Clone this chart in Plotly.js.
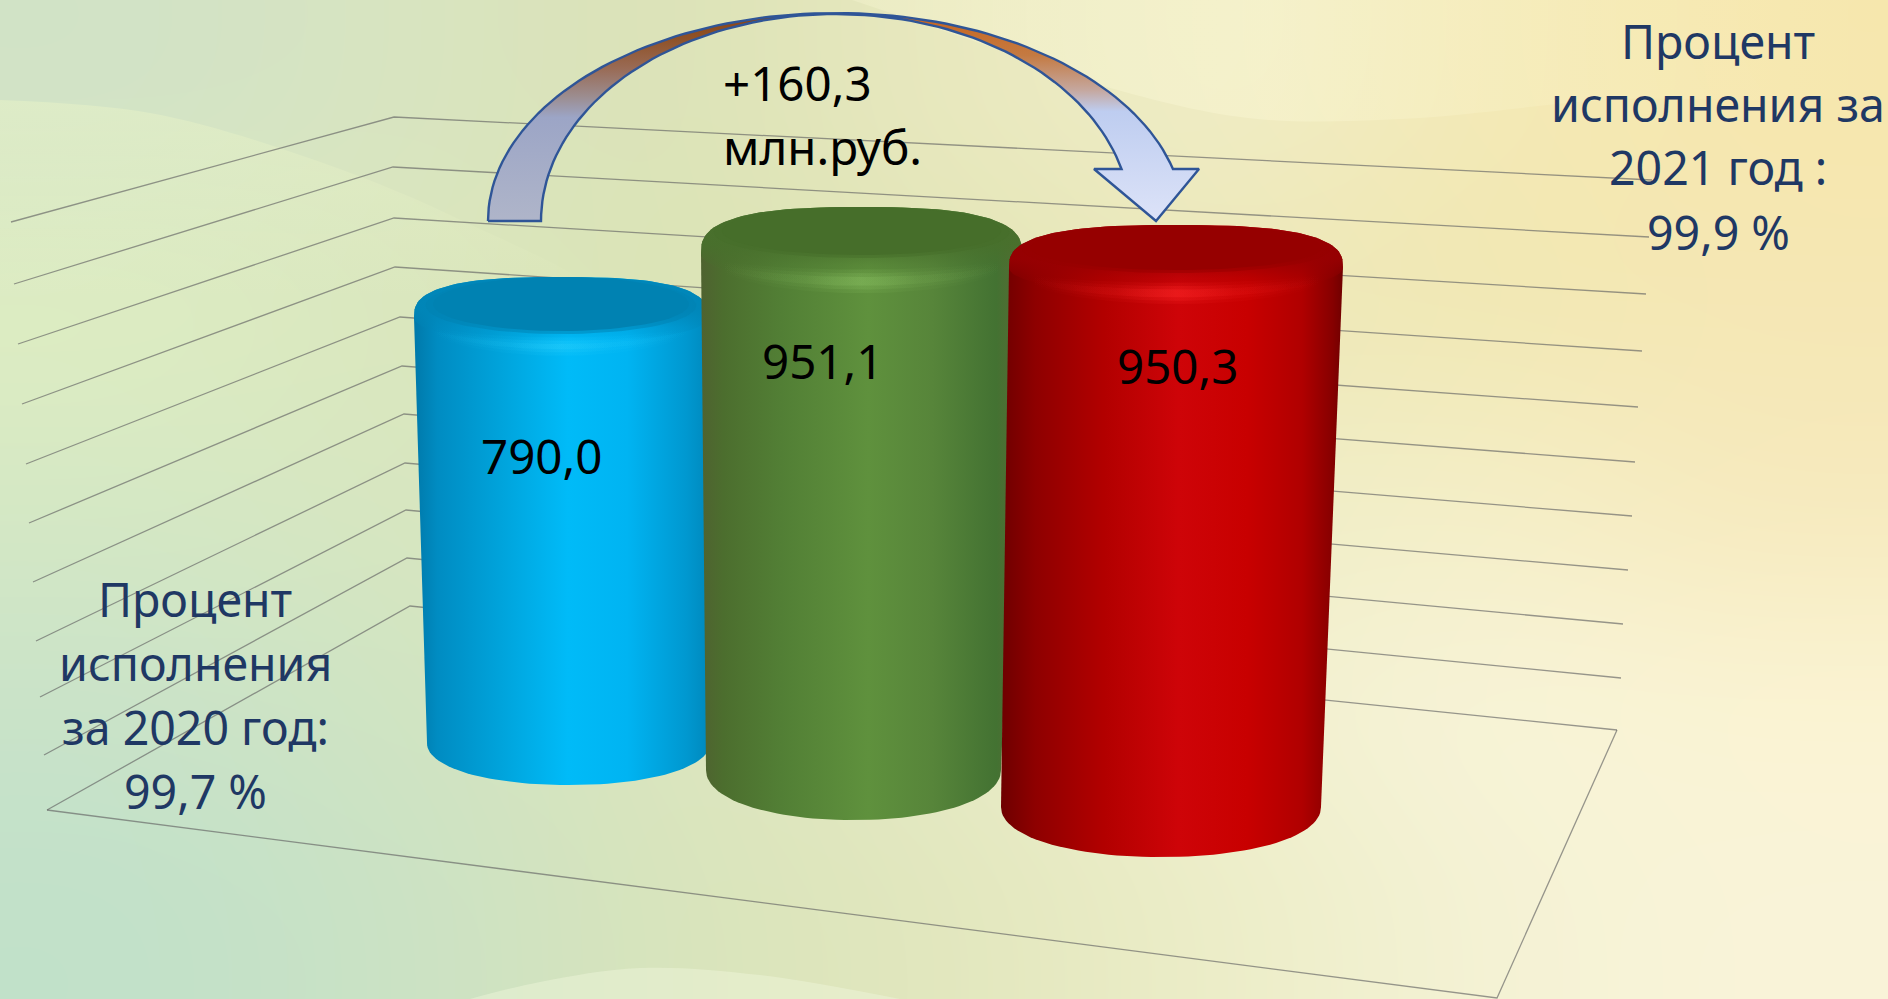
<!DOCTYPE html>
<html><head><meta charset="utf-8">
<script src="https://cdn.plot.ly/plotly-3.0.1.min.js"></script>
<style>html,body{margin:0;padding:0;width:1888px;height:999px;overflow:hidden}#c{width:1888px;height:999px}</style>
</head><body><div id="c"></div>
<script>
// ---- data ----
const categories = ["2020", "2021 план", "2021 факт"];
const values = [790.0, 951.1, 950.3];
const valueLabels = ["790,0", "951,1", "950,3"];
const gridTicks = [0,100,200,300,400,500,600,700,800,900,1000];
const deltaLines = ["+160,3", "млн.руб."];
const noteLeft = ["Процент", "исполнения", "за 2020 год:", "99,7 %"];
const noteRight = ["Процент", "исполнения за", "2021 год :", "99,9 %"];

// ---- projected geometry of the 3-D scene (page pixels) ----
const wallLeftX  = [47,44,40,36,33,29,26,22,18,14,11];
const wallLeftY  = [810,755,697,641,582,523,464,404,344,284,222];
const cornerX    = [410,407,406,405,404,402,400,395,394,393,394];
const cornerY    = [606,558,510,463,414,366,317,267,218,167,117];
const wallRightX = [1617,1621,1623,1628,1632,1635,1638,1642,1646,1649,1652];
const wallRightY = [730,678,624,570,516,462,407,351,294,237,180];
const floorFront = [1497,998];
const cyl = [
 {tL:414,tR:708,tB:40,bL:427,bR:710,bY:743,bB:42,k:0.5392,fl:14,
  body:[[0,'#0079AA'],[0.08,'#008CC2'],[0.3,'#00A4DC'],[0.52,'#00BBF8'],[0.72,'#00B4F2'],[0.92,'#0098D0'],[1,'#0088BC']],
  face:'0,130,178',rim:'0,134,184',hi:'40,205,250'},
 {tL:701,tR:1022,tB:46,bL:706,bR:1001,bY:770,bB:50,k:0.5436,fl:2,
  body:[[0,'#4F6230'],[0.07,'#4C6E2E'],[0.25,'#527F35'],[0.52,'#5F913D'],[0.72,'#57853A'],[0.92,'#437232'],[1,'#5A6B34']],
  face:'70,110,42',rim:'72,112,44',hi:'136,190,96'},
 {tL:1009,tR:1343,tB:42,bL:1001,bR:1321,bY:807,bB:50,k:0.5682,fl:3,
  body:[[0,'#6E0000'],[0.1,'#8E0000'],[0.3,'#B20000'],[0.52,'#CE0408'],[0.72,'#C80000'],[0.88,'#B00000'],[0.97,'#860000'],[1,'#700000']],
  face:'150,0,0',rim:'152,0,2',hi:'255,40,40'}
];
const arrowC = {x:836,y:221,outerA:348,outerB:208,innerA:295,innerB:207,
  footY:221, neckY:169, wingL:1094, wingR:1199, tipX:1156, tipY:221};

// ---- background ----
const bgGrid = [
 ['#D2E3C6','#D8E4C0','#DCE3B8','#E8E8BE','#EFECC4','#F3E9B6','#F6E7AE'],
 ['#DDECC2','#DAE7BE','#DBE4B6','#E3E6B8','#ECE8BA','#F1E8B4','#F5E7B4'],
 ['#D5E8C4','#D7E6C0','#DCE6BC','#E6E9C0','#EEEDC6','#F4EEC6','#F6EABE'],
 ['#CAE3C8','#D0E4C2','#DBE5BE','#E6EAC4','#F0F0CE','#F7F3D6','#FAF3D2'],
 ['#C2E1C9','#CBE2C4','#D8E4BC','#E2E7BE','#ECEDC8','#F4F2D4','#F9F3D8']
];
function bgImage(){
  const s=document.createElement('canvas'); s.width=bgGrid[0].length; s.height=bgGrid.length;
  const g=s.getContext('2d');
  bgGrid.forEach((r,j)=>r.forEach((c,i)=>{g.fillStyle=c;g.fillRect(i,j,1,1);}));
  const b=document.createElement('canvas'); b.width=1888; b.height=999;
  const h=b.getContext('2d'); h.imageSmoothingEnabled=true; h.imageSmoothingQuality='high';
  h.drawImage(s,0,0,1888,999);
  return b.toDataURL('image/png');
}

// ---- helpers ----
const traces=[];
function seq(n){return Array.from({length:n+1},(_,i)=>i/n);}
function arc(cx,cy,a,b,t0,t1,n,p){p=p||2;
  return seq(n).map(u=>{const t=(t0+(t1-t0)*u)*Math.PI/180,c=Math.cos(t),s=Math.sin(t);
    return [cx+a*Math.sign(c)*Math.pow(Math.abs(c),2/p), cy+b*Math.sign(s)*Math.pow(Math.abs(s),2/p)];});}
function poly(pts,extra){
  traces.push(Object.assign({type:'scatter',mode:'lines',x:pts.map(p=>p[0]),y:pts.map(p=>p[1]),
    fill:'toself',line:{width:0,color:'rgba(0,0,0,0)'},hoverinfo:'skip',showlegend:false},extra));
}
function path(pts,color,w){
  traces.push({type:'scatter',mode:'lines',x:pts.map(p=>p[0]),y:pts.map(p=>p[1]),
    line:{color:color,width:w},hoverinfo:'skip',showlegend:false});
}
function grad(type,start,stop,scale){return {fillgradient:{type,start,stop,colorscale:scale}};}
const smooth={line:{width:0,color:'rgba(0,0,0,0)',shape:'spline',smoothing:1}};

// light waves of the slide background
poly([[0,100],[150,113],[300,155],[450,215],[600,300],[0,300]],
     Object.assign({},smooth,grad('vertical',100,300,[[0,'rgba(235,245,200,0.45)'],[1,'rgba(235,245,200,0)']])));
poly([[852,0],[1000,50],[1100,85],[1248,118],[1400,119],[1600,100],[1888,80],[1888,0]],
     Object.assign({},smooth,grad('horizontal',852,1888,[[0,'rgba(255,252,220,0.25)'],[0.4,'rgba(255,252,220,0.32)'],[1,'rgba(255,250,210,0)']])));
poly([[470,999],[540,982],[640,968],[760,975],[900,999]],Object.assign({},smooth,{fillcolor:'rgba(240,246,220,0.45)'}));

// value wall and floor grid
const gridInk='rgba(100,100,100,0.66)';
gridTicks.forEach((t,i)=>{
  path([[wallLeftX[i],wallLeftY[i]],[cornerX[i],cornerY[i]],[wallRightX[i],wallRightY[i]]],gridInk,1.3);
});
path([[wallLeftX[0],wallLeftY[0]],floorFront,[wallRightX[0],wallRightY[0]]],gridInk,1.3);

// cylinders: height = value x scale of the depth plane
values.forEach((v,i)=>{
  const g=cyl[i], tY=g.bY-v*g.k, tcx=(g.tL+g.tR)/2, ta=(g.tR-g.tL)/2, bcx=(g.bL+g.bR)/2, ba=(g.bR-g.bL)/2;
  const top=arc(tcx,tY,ta,g.tB,180,360,60,2.7);
  const bot=arc(bcx,g.bY,ba,g.bB,0,180,60,2.1);
  const x0=Math.min(g.tL,g.bL), x1=Math.max(g.tR,g.bR);
  poly(top.concat(bot),grad('horizontal',x0,x1,g.body));
  // bevel ring
  const front=arc(tcx,tY,ta,g.tB*0.62,0,180,60,2.2);
  poly(top.concat(front),grad('vertical',tY-g.tB,tY+g.tB*0.62,[[0,`rgba(${g.rim},1)`],[0.5,`rgba(${g.rim},0.9)`],[0.78,`rgba(${g.rim},0.25)`],[1,`rgba(${g.rim},0)`]]));
  // soft edge + top face, from the silhouette's top down to the face's lower edge
  const fTop=tY-g.tB, fBot=tY+g.fl, fy=(fTop+fBot)/2, fb=(fBot-fTop)/2;
  poly(arc(tcx,fy+1.5,ta*0.92,fb+1.5,0,360,80),{fillcolor:`rgba(${g.face},0.5)`});
  poly(arc(tcx,fy,ta*0.87,fb,0,360,80),{fillcolor:`rgb(${g.face})`});
  // soft highlight on the front of the bevel, three nested lenses
  [[0.5,0.7,0.3],[0.42,0.78,0.22],[0.34,0.86,0.15]].forEach(L=>{
    const up=arc(tcx,tY,ta,g.tB*L[0]+g.fl*0.5,150,30,40), lo=arc(tcx,tY,ta,g.tB*L[1]+g.fl*0.3,30,150,40);
    const c=g.hi,al=L[2];
    poly(up.concat(lo),grad('horizontal',tcx-ta*0.87,tcx+ta*0.87,[[0,`rgba(${c},0)`],[0.3,`rgba(${c},${al*0.4})`],[0.5,`rgba(${c},${al*1.1})`],[0.7,`rgba(${c},${al*0.4})`],[1,`rgba(${c},0)`]]));
  });
});

// curved arrow
(function(){
  const a=arrowC, O=(t0,t1,n)=>arc(a.x,a.y,a.outerA,a.outerB,t0,t1,n), I=(t0,t1,n)=>arc(a.x,a.y,a.innerA,a.innerB,t0,t1,n);
  const endAO=360-Math.asin((a.y-a.neckY)/a.outerB)*180/Math.PI, endAI=360-Math.asin((a.y-a.neckY)/a.innerB)*180/Math.PI;
  const leftP=O(180,270,50).concat(I(270,180,50));
  poly(leftP,grad('vertical',14,221,[[0,'#8A4414'],[0.12,'#8F5228'],[0.26,'#996A54'],[0.4,'#9C8D90'],[0.5,'#9CA5C6'],[1,'#AFB5C9']]));
  const rightP=O(270,endAO,50).concat([[a.wingR,a.neckY],[a.tipX,a.tipY],[a.wingL,a.neckY]],I(endAI,270,50));
  poly(rightP,grad('vertical',14,221,[[0,'#C8641C'],[0.2,'#C47A42'],[0.37,'#C5A8A0'],[0.47,'#BECDF0'],[1,'#DDE3F8']]));
  const outline=O(180,endAO,90).concat([[a.wingR,a.neckY],[a.tipX,a.tipY],[a.wingL,a.neckY]],I(endAI,180,90));
  outline.push(outline[0]);
  path(outline,'#2F5597',2.4);
})();

// ---- text ----
const FONT='"Noto Sans", sans-serif', SZ_NOTE=46.5, SZ_VAL=47.5;
function label(t,x,base,color,size,anchor){
  return {text:t,x:x,y:base-size*0.34,xref:'x',yref:'y',showarrow:false,xanchor:anchor||'center',yanchor:'middle',
    font:{family:FONT,size:size,color:color}};
}
const anns=[];
const noteInk='#1F3864';
const valueX=[541,822,1177], valueBase=[472,377,382];
valueLabels.forEach((t,i)=>anns.push(label(t,valueX[i],valueBase[i],'#000',SZ_VAL)));
deltaLines.forEach((t,i)=>anns.push(label(t,721,[99,163][i],'#000',SZ_VAL,'left')));
noteLeft.forEach((t,i)=>anns.push(label(t,195,[615,679,743,807][i],noteInk,SZ_NOTE)));
noteRight.forEach((t,i)=>anns.push(label(t,1718,[57,120,183,248][i],noteInk,SZ_NOTE)));

const layout={width:1888,height:999,margin:{l:0,r:0,t:0,b:0,pad:0},showlegend:false,hovermode:false,
  paper_bgcolor:'#E6EAC4',plot_bgcolor:'rgba(0,0,0,0)',
  xaxis:{range:[0,1888],visible:false,fixedrange:true},
  yaxis:{range:[999,0],visible:false,fixedrange:true},
  images:[{source:bgImage(),xref:'paper',yref:'paper',x:0,y:1,sizex:1,sizey:1,xanchor:'left',yanchor:'top',sizing:'stretch',layer:'below'}],
  annotations:anns};
Plotly.newPlot('c',traces,layout,{displayModeBar:false,responsive:false});
</script></body></html>
